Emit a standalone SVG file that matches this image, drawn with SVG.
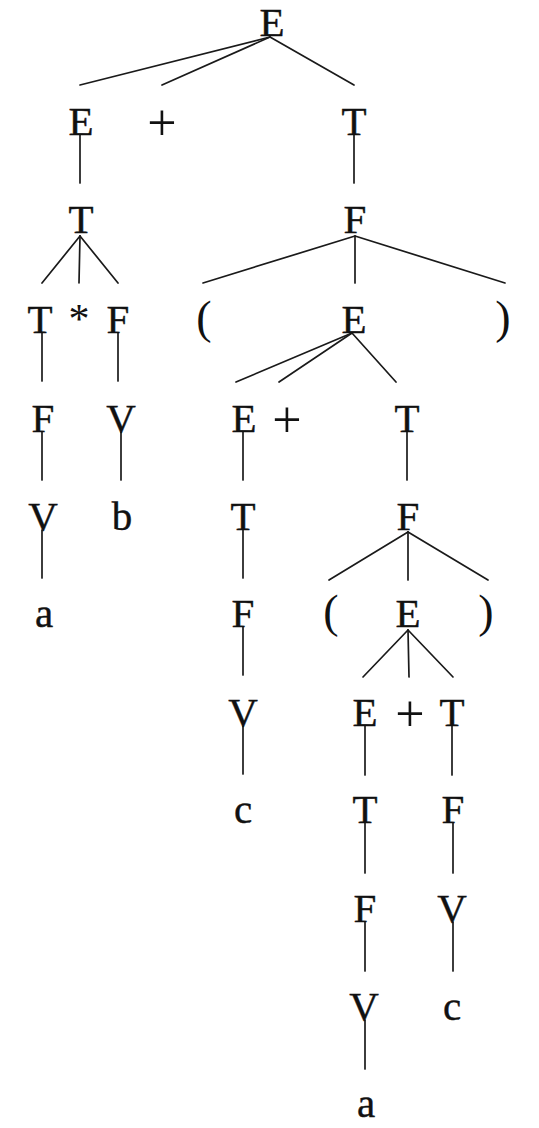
<svg xmlns="http://www.w3.org/2000/svg" width="539" height="1128" viewBox="0 0 539 1128">
<style>
text{font-family:"Liberation Serif","DejaVu Serif",serif;font-size:41px;fill:#111;stroke:#111;stroke-width:0.4;text-anchor:middle}
.op{font-size:52px;stroke-width:0}
.par{font-size:46px;stroke-width:0}
.st{font-size:42px;stroke-width:0}
#edges line{stroke:#1a1a1a;stroke-width:1.7;stroke-linecap:round}
</style>
<rect width="539" height="1128" fill="#fff"/>
<g id="edges">
<line x1="270" y1="37" x2="80" y2="85"/><line x1="270" y1="37" x2="162" y2="85"/><line x1="270" y1="37" x2="354" y2="85"/>
<line x1="80" y1="135" x2="80" y2="183"/><line x1="354" y1="135" x2="354" y2="183"/>
<line x1="80" y1="236" x2="42" y2="283"/><line x1="80" y1="236" x2="79" y2="283"/><line x1="80" y1="236" x2="118" y2="283"/>
<line x1="355" y1="236" x2="203" y2="283"/><line x1="355" y1="236" x2="355" y2="283"/><line x1="355" y1="236" x2="505" y2="283"/>
<line x1="42" y1="333" x2="42" y2="381"/><line x1="118" y1="333" x2="118" y2="381"/>
<line x1="352" y1="333" x2="236" y2="382"/><line x1="352" y1="333" x2="279" y2="382"/><line x1="352" y1="333" x2="396" y2="382"/>
<line x1="42" y1="432" x2="42" y2="480"/><line x1="121" y1="432" x2="121" y2="480"/><line x1="243" y1="432" x2="243" y2="480"/><line x1="407" y1="432" x2="407" y2="480"/>
<line x1="42" y1="530" x2="42" y2="578"/><line x1="243" y1="530" x2="243" y2="578"/>
<line x1="408" y1="532" x2="329" y2="580"/><line x1="408" y1="532" x2="408" y2="580"/><line x1="408" y1="532" x2="488" y2="580"/>
<line x1="243" y1="627" x2="243" y2="675"/>
<line x1="408" y1="630" x2="363" y2="677"/><line x1="408" y1="630" x2="409" y2="677"/><line x1="408" y1="630" x2="453" y2="677"/>
<line x1="243" y1="726" x2="243" y2="774"/><line x1="365" y1="726" x2="365" y2="775"/><line x1="452" y1="726" x2="452" y2="775"/>
<line x1="365" y1="823" x2="365" y2="873"/><line x1="453" y1="823" x2="453" y2="873"/>
<line x1="365" y1="922" x2="365" y2="971"/><line x1="453" y1="922" x2="453" y2="971"/>
<line x1="365" y1="1020" x2="365" y2="1069"/>
</g>
<g id="n1"><text x="272" y="36">E</text></g>
<g id="n2"><text x="81" y="135">E</text></g>
<g id="n3"><text class="op" x="162" y="140">+</text></g>
<g id="n4"><text x="354" y="135">T</text></g>
<g id="n5"><text x="81" y="233">T</text></g>
<g id="n6"><text x="355" y="233">F</text></g>
<g id="n7"><text x="40" y="333">T</text></g>
<g id="n8"><text class="st" x="79" y="333">*</text></g>
<g id="n9"><text x="118" y="333">F</text></g>
<g id="n10"><text class="par" x="204" y="333">(</text></g>
<g id="n11"><text x="354" y="333">E</text></g>
<g id="n12"><text class="par" x="503" y="333">)</text></g>
<g id="n13"><text x="43" y="432">F</text></g>
<g id="n14"><text x="121" y="432">V</text></g>
<g id="n15"><text x="244" y="432">E</text></g>
<g id="n16"><text class="op" x="287" y="437">+</text></g>
<g id="n17"><text x="407" y="432">T</text></g>
<g id="n18"><text x="43" y="530">V</text></g>
<g id="n19"><text x="122" y="530">b</text></g>
<g id="n20"><text x="243" y="530">T</text></g>
<g id="n21"><text x="408" y="530">F</text></g>
<g id="n22"><text x="44" y="627">a</text></g>
<g id="n23"><text x="243" y="627">F</text></g>
<g id="n24"><text class="par" x="331" y="627">(</text></g>
<g id="n25"><text x="408" y="627">E</text></g>
<g id="n26"><text class="par" x="486" y="627">)</text></g>
<g id="n27"><text x="243" y="726">V</text></g>
<g id="n28"><text x="365" y="726">E</text></g>
<g id="n29"><text class="op" x="410" y="731">+</text></g>
<g id="n30"><text x="452" y="726">T</text></g>
<g id="n31"><text x="243" y="823">c</text></g>
<g id="n32"><text x="365" y="823">T</text></g>
<g id="n33"><text x="453" y="823">F</text></g>
<g id="n34"><text x="365" y="922">F</text></g>
<g id="n35"><text x="452" y="922">V</text></g>
<g id="n36"><text x="364" y="1020">V</text></g>
<g id="n37"><text x="452" y="1020">c</text></g>
<g id="n38"><text x="366" y="1117">a</text></g>
</svg>
